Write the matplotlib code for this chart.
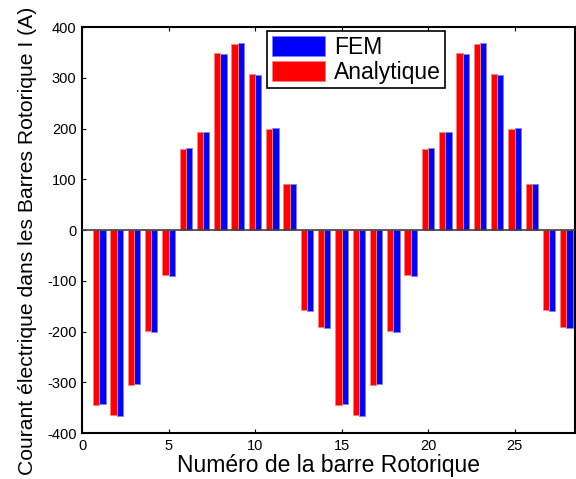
import numpy as np
import matplotlib.pyplot as plt

plt.rcParams['font.family'] = ['Liberation Sans', 'DejaVu Sans']
plt.rcParams['axes.unicode_minus'] = False

# bar numbers and currents (A)
barres = np.arange(1, 29)
fem = [-343, -366, -304, -200, -90, 161, 194, 346, 368, 305, 201, 91, -159, -193,
       -343, -366, -304, -200, -90, 161, 194, 346, 368, 305, 201, 91, -159, -193]
analytique = [-345, -365, -305, -198, -89, 160, 193, 348, 366, 307, 200, 90, -158, -192,
              -345, -365, -305, -198, -89, 160, 193, 348, 366, 307, 200, 90, -158, -192]

fig = plt.figure(figsize=(5.76, 4.79), dpi=100)
ax = fig.add_axes([0.1424, 0.096, 0.856, 0.8476])

w = 0.36
ax.bar(barres + w / 2, fem, width=w, color='#0000ff', edgecolor='#8080ff',
       linewidth=0.6, label='FEM', zorder=2)
ax.bar(barres - w / 2, analytique, width=w, color='#ff0000', edgecolor='#ff8080',
       linewidth=0.6, label='Analytique', zorder=3)
ax.axhline(0, color='#404040', lw=1.2, zorder=4)

ax.set_xlim(0, 28.5)
ax.set_ylim(-400, 400)
ax.set_xticks(np.arange(0, 30, 5))
ax.set_yticks(np.arange(-400, 401, 100))
ax.tick_params(direction='in', length=3, labelsize=10.5, top=True, right=False,
               width=0.8, pad=4)
for s in ax.spines.values():
    s.set_linewidth(1.5)

ax.set_xlabel('Numéro de la barre Rotorique', fontsize=16.5, labelpad=1)
ax.set_ylabel('Courant électrique dans les Barres Rotorique I (A)', fontsize=15.2)
ax.yaxis.set_label_coords(-0.092, 0.473)

leg = ax.legend(loc='upper left', bbox_to_anchor=(0.376, 0.99), fontsize=16.5,
                fancybox=False, framealpha=1, edgecolor='black',
                handlelength=2.3, handleheight=1.0, handletextpad=0.4,
                borderpad=0.2, labelspacing=0.08, borderaxespad=0)
leg.get_frame().set_linewidth(1.2)

fig.savefig('out.png', dpi=100)
